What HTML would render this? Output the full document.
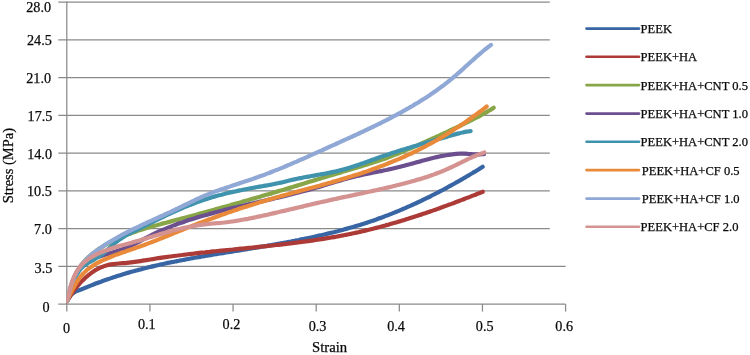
<!DOCTYPE html>
<html lang="en"><head><meta charset="utf-8"><title>Stress–strain curves</title>
<style>
html,body{margin:0;padding:0;background:#fff}
svg{display:block}
text{font-family:"Liberation Serif",serif;fill:#0a0a0a;stroke:#0a0a0a;stroke-width:0.25px}
</style></head><body>
<svg width="750" height="355" viewBox="0 0 750 355">
<rect width="750" height="355" fill="#fff"/>
<g stroke="#8a8a8a" stroke-width="1.25" fill="none">
<line x1="58.3" y1="304.10" x2="565.6" y2="304.10"/>
<line x1="58.3" y1="266.34" x2="565.6" y2="266.34"/>
<line x1="58.3" y1="228.58" x2="549.8" y2="228.58"/>
<line x1="58.3" y1="190.82" x2="549.8" y2="190.82"/>
<line x1="58.3" y1="153.06" x2="549.8" y2="153.06"/>
<line x1="58.3" y1="115.30" x2="549.8" y2="115.30"/>
<line x1="58.3" y1="77.54" x2="549.8" y2="77.54"/>
<line x1="58.3" y1="39.78" x2="549.8" y2="39.78"/>
<line x1="58.3" y1="2.02" x2="549.8" y2="2.02"/>
<line x1="66.8" y1="1.5" x2="66.8" y2="311.6"/>
<line x1="149.93" y1="304.1" x2="149.93" y2="311.6"/>
<line x1="233.06" y1="304.1" x2="233.06" y2="311.6"/>
<line x1="316.19" y1="304.1" x2="316.19" y2="311.6"/>
<line x1="399.32" y1="304.1" x2="399.32" y2="311.6"/>
<line x1="482.45" y1="304.1" x2="482.45" y2="311.6"/>
<line x1="565.58" y1="304.1" x2="565.58" y2="311.6"/>
</g>
<clipPath id="pa"><rect x="66.4" y="0" width="500" height="303.6"/></clipPath>
<g fill="none" stroke-width="4.2" stroke-linecap="round" stroke-linejoin="round" clip-path="url(#pa)">
<path stroke="#3865A3" d="M66.9 301.3C67.3 300.7 68.3 298.9 69.1 297.8C69.8 296.7 70.5 295.4 71.4 294.5C72.3 293.6 73.4 292.9 74.5 292.2C75.6 291.6 76.8 291.1 78.0 290.6C79.2 290.1 80.4 289.7 81.7 289.2C82.9 288.7 84.1 288.2 85.4 287.7C86.6 287.2 87.8 286.7 89.1 286.2C90.3 285.7 91.5 285.3 92.8 284.8C94.0 284.3 95.3 283.8 96.5 283.3C97.8 282.9 99.0 282.4 100.3 281.9C101.5 281.5 102.8 281.0 104.0 280.6C105.3 280.1 106.6 279.7 107.8 279.2C109.1 278.8 110.3 278.4 111.6 277.9C112.9 277.5 114.1 277.1 115.4 276.7C116.7 276.3 117.9 275.9 119.2 275.5C120.5 275.1 121.7 274.7 123.0 274.3C124.3 273.9 125.5 273.5 126.8 273.1C128.1 272.8 129.4 272.4 130.6 272.0C131.9 271.7 133.2 271.3 134.5 271.0C135.8 270.6 137.0 270.3 138.3 269.9C139.6 269.6 140.9 269.3 142.2 268.9C143.4 268.6 144.7 268.3 146.0 268.0C147.3 267.6 148.6 267.3 149.9 267.0C151.2 266.7 152.5 266.4 153.7 266.1C155.0 265.8 156.3 265.5 157.6 265.2C158.9 264.9 160.2 264.6 161.5 264.3C162.8 264.1 164.1 263.8 165.4 263.5C166.7 263.2 168.0 262.9 169.3 262.7C170.6 262.4 171.9 262.1 173.2 261.9C174.5 261.6 175.8 261.4 177.1 261.1C178.4 260.8 179.7 260.6 181.0 260.3C182.3 260.1 183.6 259.8 184.9 259.6C186.2 259.3 187.5 259.1 188.8 258.9C190.1 258.6 191.4 258.4 192.7 258.2C194.0 257.9 195.3 257.7 196.6 257.5C197.9 257.2 199.2 257.0 200.6 256.8C201.9 256.5 203.2 256.3 204.5 256.1C205.8 255.9 207.1 255.6 208.4 255.4C209.7 255.2 211.0 255.0 212.3 254.8C213.6 254.5 215.0 254.3 216.3 254.1C217.6 253.9 218.9 253.7 220.2 253.5C221.5 253.3 222.8 253.0 224.1 252.8C225.4 252.6 226.8 252.4 228.1 252.2C229.4 252.0 230.7 251.8 232.0 251.6C233.3 251.3 234.6 251.1 236.0 250.9C237.3 250.7 238.6 250.5 239.9 250.3C241.2 250.1 242.5 249.9 243.8 249.7C245.1 249.4 246.5 249.2 247.8 249.0C249.1 248.8 250.4 248.6 251.7 248.4C253.0 248.2 254.3 247.9 255.6 247.7C257.0 247.5 258.3 247.3 259.6 247.1C260.9 246.8 262.2 246.6 263.5 246.4C264.8 246.2 266.1 246.0 267.5 245.7C268.8 245.5 270.1 245.3 271.4 245.1C272.7 244.8 274.0 244.6 275.3 244.4C276.6 244.1 277.9 243.9 279.2 243.7C280.5 243.4 281.9 243.2 283.2 243.0C284.5 242.7 285.8 242.5 287.1 242.2C288.4 242.0 289.7 241.7 291.0 241.5C292.3 241.2 293.6 241.0 294.9 240.7C296.2 240.5 297.5 240.2 298.8 240.0C300.1 239.7 301.4 239.4 302.7 239.2C304.0 238.9 305.3 238.6 306.6 238.4C307.9 238.1 309.2 237.8 310.5 237.5C311.8 237.3 313.1 237.0 314.4 236.7C315.7 236.4 317.0 236.1 318.3 235.8C319.6 235.5 320.9 235.3 322.2 235.0C323.5 234.7 324.8 234.4 326.1 234.0C327.3 233.7 328.6 233.4 329.9 233.1C331.2 232.8 332.5 232.5 333.8 232.2C335.1 231.8 336.3 231.5 337.6 231.2C338.9 230.8 340.2 230.5 341.5 230.2C342.8 229.8 344.0 229.5 345.3 229.1C346.6 228.8 347.9 228.4 349.1 228.0C350.4 227.7 351.7 227.3 353.0 227.0C354.2 226.6 355.5 226.2 356.8 225.8C358.0 225.4 359.3 225.1 360.6 224.7C361.8 224.3 363.1 223.9 364.4 223.5C365.6 223.1 366.9 222.7 368.1 222.2C369.4 221.8 370.7 221.4 371.9 221.0C373.2 220.5 374.4 220.1 375.7 219.7C376.9 219.2 378.2 218.8 379.4 218.3C380.7 217.9 381.9 217.4 383.2 217.0C384.4 216.5 385.7 216.0 386.9 215.6C388.1 215.1 389.4 214.6 390.6 214.1C391.8 213.6 393.1 213.1 394.3 212.6C395.6 212.1 396.8 211.6 398.0 211.1C399.2 210.6 400.5 210.1 401.7 209.6C402.9 209.1 404.1 208.5 405.4 208.0C406.6 207.5 407.8 206.9 409.0 206.4C410.2 205.9 411.5 205.3 412.7 204.8C413.9 204.2 415.1 203.7 416.3 203.1C417.5 202.5 418.7 202.0 419.9 201.4C421.1 200.8 422.3 200.3 423.5 199.7C424.7 199.1 425.9 198.5 427.1 197.9C428.3 197.3 429.5 196.7 430.7 196.2C431.9 195.6 433.1 195.0 434.3 194.3C435.5 193.7 436.7 193.1 437.8 192.5C439.0 191.9 440.2 191.3 441.4 190.7C442.6 190.0 443.7 189.4 444.9 188.8C446.1 188.2 447.2 187.5 448.4 186.9C449.6 186.3 450.7 185.6 451.9 185.0C453.1 184.3 454.2 183.7 455.4 183.0C456.5 182.4 457.7 181.7 458.9 181.1C460.0 180.4 461.2 179.7 462.3 179.1C463.5 178.4 464.6 177.7 465.7 177.1C466.9 176.4 468.0 175.7 469.2 175.1C470.3 174.4 471.4 173.7 472.6 173.0C473.7 172.3 474.8 171.7 476.0 171.0C477.1 170.3 478.2 169.6 479.3 168.9C480.5 168.2 482.1 167.2 482.7 166.8"/>
<path stroke="#AC3B37" d="M66.9 301.3C67.2 300.7 68.2 299.1 68.9 298.0C69.6 296.9 70.3 295.8 71.1 294.7C71.8 293.6 72.6 292.5 73.3 291.4C74.1 290.4 74.9 289.3 75.7 288.3C76.6 287.2 77.4 286.2 78.3 285.2C79.1 284.2 80.0 283.2 80.9 282.2C81.8 281.2 82.8 280.3 83.7 279.4C84.7 278.4 85.7 277.5 86.7 276.7C87.7 275.8 88.7 274.9 89.8 274.1C90.8 273.3 91.9 272.5 93.0 271.8C94.1 271.1 95.2 270.3 96.3 269.7C97.5 269.0 98.6 268.4 99.8 267.9C101.0 267.3 102.2 266.8 103.4 266.4C104.7 265.9 105.9 265.5 107.2 265.2C108.4 264.9 109.7 264.6 111.0 264.4C112.3 264.2 113.6 264.0 114.9 263.9C116.2 263.7 117.5 263.6 118.8 263.5C120.2 263.4 121.5 263.3 122.8 263.2C124.1 263.1 125.5 263.0 126.8 262.8C128.1 262.7 129.4 262.6 130.7 262.4C132.0 262.2 133.4 262.1 134.7 261.9C136.0 261.7 137.3 261.5 138.6 261.3C139.9 261.1 141.2 260.9 142.5 260.7C143.8 260.5 145.1 260.3 146.5 260.1C147.8 259.9 149.1 259.7 150.4 259.5C151.7 259.3 153.0 259.1 154.3 258.9C155.6 258.6 156.9 258.4 158.2 258.2C159.5 258.0 160.8 257.8 162.1 257.6C163.4 257.5 164.7 257.3 166.0 257.1C167.4 256.9 168.7 256.7 170.0 256.5C171.3 256.3 172.6 256.2 173.9 256.0C175.2 255.8 176.5 255.6 177.8 255.5C179.1 255.3 180.4 255.1 181.7 255.0C183.1 254.8 184.4 254.7 185.7 254.5C187.0 254.3 188.3 254.2 189.6 254.0C190.9 253.9 192.2 253.7 193.5 253.6C194.8 253.4 196.2 253.3 197.5 253.1C198.8 253.0 200.1 252.8 201.4 252.7C202.7 252.6 204.0 252.4 205.3 252.3C206.7 252.1 208.0 252.0 209.3 251.9C210.6 251.7 211.9 251.6 213.2 251.4C214.5 251.3 215.8 251.2 217.2 251.0C218.5 250.9 219.8 250.8 221.1 250.6C222.4 250.5 223.7 250.4 225.0 250.3C226.4 250.1 227.7 250.0 229.0 249.9C230.3 249.7 231.6 249.6 232.9 249.5C234.2 249.3 235.6 249.2 236.9 249.1C238.2 249.0 239.5 248.8 240.8 248.7C242.1 248.6 243.5 248.4 244.8 248.3C246.1 248.2 247.4 248.0 248.7 247.9C250.0 247.8 251.3 247.7 252.7 247.5C254.0 247.4 255.3 247.3 256.6 247.1C257.9 247.0 259.2 246.9 260.6 246.7C261.9 246.6 263.2 246.4 264.5 246.3C265.8 246.2 267.1 246.0 268.4 245.9C269.8 245.7 271.1 245.6 272.4 245.5C273.7 245.3 275.0 245.2 276.3 245.0C277.6 244.9 279.0 244.7 280.3 244.6C281.6 244.4 282.9 244.3 284.2 244.1C285.5 244.0 286.8 243.8 288.1 243.7C289.5 243.5 290.8 243.3 292.1 243.2C293.4 243.0 294.7 242.9 296.0 242.7C297.3 242.5 298.6 242.4 299.9 242.2C301.2 242.0 302.6 241.8 303.9 241.7C305.2 241.5 306.5 241.3 307.8 241.1C309.1 240.9 310.4 240.8 311.7 240.6C313.0 240.4 314.3 240.2 315.6 240.0C316.9 239.8 318.2 239.6 319.5 239.4C320.8 239.2 322.1 239.0 323.5 238.8C324.8 238.6 326.1 238.4 327.4 238.1C328.7 237.9 330.0 237.7 331.3 237.5C332.6 237.3 333.9 237.0 335.2 236.8C336.5 236.6 337.8 236.3 339.1 236.1C340.3 235.9 341.6 235.6 342.9 235.4C344.2 235.1 345.5 234.9 346.8 234.6C348.1 234.3 349.4 234.1 350.7 233.8C352.0 233.6 353.3 233.3 354.6 233.0C355.9 232.7 357.2 232.5 358.4 232.2C359.7 231.9 361.0 231.6 362.3 231.3C363.6 231.0 364.9 230.7 366.2 230.4C367.4 230.1 368.7 229.8 370.0 229.5C371.3 229.2 372.6 228.8 373.9 228.5C375.1 228.2 376.4 227.9 377.7 227.5C379.0 227.2 380.3 226.8 381.5 226.5C382.8 226.2 384.1 225.8 385.4 225.5C386.6 225.1 387.9 224.8 389.2 224.4C390.5 224.0 391.7 223.7 393.0 223.3C394.3 222.9 395.5 222.6 396.8 222.2C398.1 221.8 399.3 221.4 400.6 221.1C401.9 220.7 403.1 220.3 404.4 219.9C405.7 219.5 406.9 219.1 408.2 218.7C409.5 218.3 410.7 217.9 412.0 217.5C413.2 217.1 414.5 216.7 415.8 216.3C417.0 215.9 418.3 215.5 419.5 215.1C420.8 214.7 422.0 214.2 423.3 213.8C424.6 213.4 425.8 213.0 427.1 212.5C428.3 212.1 429.6 211.7 430.8 211.2C432.1 210.8 433.3 210.4 434.6 209.9C435.8 209.5 437.1 209.1 438.3 208.6C439.5 208.2 440.8 207.7 442.0 207.3C443.3 206.8 444.5 206.4 445.8 205.9C447.0 205.5 448.2 205.0 449.5 204.6C450.7 204.1 452.0 203.6 453.2 203.2C454.4 202.7 455.7 202.3 456.9 201.8C458.2 201.3 459.4 200.9 460.6 200.4C461.9 199.9 463.1 199.5 464.3 199.0C465.5 198.5 466.8 198.0 468.0 197.6C469.2 197.1 470.5 196.6 471.7 196.1C472.9 195.7 474.1 195.2 475.4 194.7C476.6 194.2 477.8 193.7 479.0 193.3C480.3 192.8 482.1 192.1 482.7 191.8"/>
<path stroke="#88A647" d="M67.3 301.3C67.4 300.7 67.8 298.7 68.1 297.5C68.4 296.2 68.7 294.9 69.0 293.6C69.3 292.3 69.6 291.0 70.0 289.7C70.3 288.4 70.7 287.1 71.1 285.9C71.5 284.6 71.9 283.3 72.4 282.1C72.8 280.8 73.3 279.6 73.8 278.3C74.4 277.1 74.9 275.9 75.5 274.7C76.0 273.5 76.6 272.3 77.3 271.2C77.9 270.0 78.6 268.9 79.3 267.8C80.1 266.7 80.8 265.6 81.6 264.6C82.4 263.6 83.2 262.6 84.1 261.6C85.0 260.6 85.9 259.7 86.8 258.7C87.7 257.8 88.7 256.9 89.7 256.0C90.7 255.2 91.7 254.3 92.7 253.5C93.7 252.7 94.8 251.9 95.9 251.1C96.9 250.3 98.0 249.6 99.1 248.8C100.2 248.1 101.4 247.4 102.5 246.7C103.6 246.0 104.8 245.3 105.9 244.7C107.1 244.0 108.2 243.4 109.4 242.8C110.5 242.1 111.7 241.5 112.9 240.9C114.1 240.4 115.2 239.8 116.4 239.2C117.6 238.7 118.8 238.1 120.0 237.6C121.2 237.1 122.5 236.6 123.7 236.1C124.9 235.6 126.1 235.1 127.3 234.6C128.6 234.1 129.8 233.7 131.0 233.2C132.3 232.8 133.5 232.3 134.8 231.9C136.0 231.5 137.3 231.0 138.5 230.6C139.8 230.2 141.0 229.8 142.3 229.4C143.6 229.0 144.8 228.6 146.1 228.2C147.4 227.9 148.6 227.5 149.9 227.1C151.2 226.8 152.5 226.4 153.7 226.0C155.0 225.7 156.3 225.3 157.6 225.0C158.9 224.6 160.1 224.3 161.4 223.9C162.7 223.6 164.0 223.2 165.3 222.9C166.6 222.6 167.8 222.2 169.1 221.9C170.4 221.5 171.7 221.2 173.0 220.9C174.3 220.5 175.5 220.2 176.8 219.8C178.1 219.5 179.4 219.2 180.7 218.8C182.0 218.5 183.2 218.1 184.5 217.8C185.8 217.4 187.1 217.1 188.3 216.8C189.6 216.4 190.9 216.1 192.2 215.7C193.5 215.4 194.7 215.0 196.0 214.7C197.3 214.3 198.6 214.0 199.8 213.6C201.1 213.3 202.4 212.9 203.7 212.6C204.9 212.2 206.2 211.9 207.5 211.5C208.8 211.2 210.0 210.8 211.3 210.5C212.6 210.1 213.9 209.8 215.1 209.4C216.4 209.1 217.7 208.7 218.9 208.4C220.2 208.0 221.5 207.7 222.8 207.3C224.0 207.0 225.3 206.6 226.6 206.3C227.8 205.9 229.1 205.5 230.4 205.2C231.6 204.8 232.9 204.5 234.2 204.1C235.5 203.7 236.7 203.4 238.0 203.0C239.3 202.7 240.5 202.3 241.8 201.9C243.1 201.6 244.3 201.2 245.6 200.8C246.9 200.5 248.1 200.1 249.4 199.7C250.7 199.4 251.9 199.0 253.2 198.6C254.5 198.3 255.7 197.9 257.0 197.5C258.3 197.2 259.5 196.8 260.8 196.4C262.1 196.1 263.3 195.7 264.6 195.3C265.9 194.9 267.2 194.6 268.4 194.2C269.7 193.8 271.0 193.4 272.2 193.1C273.5 192.7 274.8 192.3 276.0 191.9C277.3 191.6 278.6 191.2 279.8 190.8C281.1 190.4 282.4 190.0 283.6 189.7C284.9 189.3 286.2 188.9 287.4 188.5C288.7 188.1 290.0 187.7 291.2 187.4C292.5 187.0 293.8 186.6 295.0 186.2C296.3 185.8 297.6 185.4 298.8 185.1C300.1 184.7 301.4 184.3 302.6 183.9C303.9 183.5 305.2 183.1 306.4 182.8C307.7 182.4 309.0 182.0 310.2 181.6C311.5 181.2 312.8 180.8 314.0 180.4C315.3 180.1 316.6 179.7 317.8 179.3C319.1 178.9 320.4 178.5 321.7 178.1C322.9 177.7 324.2 177.4 325.5 177.0C326.7 176.6 328.0 176.2 329.3 175.8C330.5 175.4 331.8 175.1 333.1 174.7C334.3 174.3 335.6 173.9 336.9 173.5C338.1 173.2 339.4 172.8 340.7 172.4C342.0 172.0 343.2 171.6 344.5 171.3C345.8 170.9 347.0 170.5 348.3 170.1C349.6 169.8 350.8 169.4 352.1 169.0C353.4 168.6 354.6 168.2 355.9 167.9C357.2 167.5 358.4 167.1 359.7 166.7C361.0 166.3 362.2 166.0 363.5 165.6C364.8 165.2 366.0 164.8 367.3 164.4C368.6 164.0 369.8 163.6 371.1 163.2C372.3 162.8 373.6 162.4 374.8 162.0C376.1 161.6 377.4 161.2 378.6 160.7C379.9 160.3 381.1 159.9 382.3 159.5C383.6 159.0 384.8 158.6 386.1 158.2C387.3 157.7 388.6 157.3 389.8 156.8C391.0 156.3 392.3 155.9 393.5 155.4C394.7 154.9 396.0 154.4 397.2 154.0C398.4 153.5 399.6 153.0 400.9 152.5C402.1 152.0 403.3 151.5 404.5 150.9C405.7 150.4 406.9 149.9 408.2 149.4C409.4 148.9 410.6 148.3 411.8 147.8C413.0 147.3 414.2 146.8 415.4 146.2C416.6 145.7 417.8 145.2 419.1 144.6C420.3 144.1 421.5 143.5 422.7 143.0C423.9 142.5 425.1 141.9 426.3 141.4C427.5 140.8 428.7 140.3 429.9 139.8C431.1 139.2 432.3 138.7 433.5 138.1C434.7 137.6 435.9 137.0 437.1 136.5C438.3 135.9 439.5 135.4 440.8 134.8C442.0 134.3 443.2 133.7 444.4 133.1C445.6 132.6 446.8 132.0 448.0 131.5C449.2 130.9 450.3 130.3 451.5 129.8C452.7 129.2 453.9 128.7 455.1 128.1C456.3 127.5 457.5 126.9 458.7 126.4C459.9 125.8 461.1 125.2 462.3 124.7C463.5 124.1 464.7 123.5 465.9 122.9C467.1 122.4 468.3 121.8 469.4 121.2C470.6 120.6 471.8 120.0 473.0 119.4C474.2 118.9 475.4 118.3 476.5 117.6C477.7 117.0 478.9 116.4 480.0 115.8C481.2 115.2 482.4 114.5 483.5 113.9C484.7 113.2 485.8 112.6 487.0 111.9C488.1 111.2 489.2 110.6 490.4 109.9C491.5 109.2 493.1 108.1 493.7 107.7"/>
<path stroke="#6B4F8F" d="M66.9 301.3C67.1 300.7 67.8 299.0 68.2 297.7C68.6 296.5 69.0 295.2 69.4 294.0C69.7 292.7 70.1 291.4 70.5 290.0C70.9 288.7 71.3 287.4 71.7 286.1C72.1 284.7 72.5 283.4 72.9 282.1C73.4 280.8 73.9 279.5 74.4 278.2C74.9 277.0 75.4 275.7 76.0 274.5C76.6 273.3 77.3 272.2 78.0 271.1C78.6 270.0 79.4 268.9 80.2 267.9C81.0 266.9 81.9 266.0 82.8 265.2C83.8 264.3 84.8 263.6 85.8 262.8C86.8 262.1 87.9 261.5 89.1 260.8C90.2 260.2 91.4 259.6 92.6 259.1C93.8 258.6 95.1 258.1 96.3 257.6C97.6 257.1 98.9 256.7 100.1 256.3C101.4 255.9 102.7 255.5 104.0 255.1C105.3 254.7 106.6 254.3 107.9 253.9C109.2 253.5 110.5 253.1 111.8 252.8C113.1 252.4 114.4 252.0 115.6 251.6C116.9 251.2 118.2 250.8 119.4 250.3C120.7 249.9 121.9 249.5 123.2 249.0C124.4 248.6 125.6 248.1 126.9 247.6C128.1 247.0 129.3 246.5 130.5 245.9C131.7 245.4 132.9 244.8 134.1 244.2C135.2 243.6 136.4 243.0 137.6 242.4C138.8 241.8 140.0 241.2 141.1 240.5C142.3 239.9 143.5 239.3 144.7 238.6C145.8 238.0 147.0 237.4 148.2 236.8C149.4 236.2 150.6 235.6 151.7 235.0C152.9 234.4 154.1 233.8 155.3 233.2C156.5 232.6 157.7 232.1 158.9 231.5C160.2 231.0 161.4 230.4 162.6 229.9C163.8 229.4 165.0 228.9 166.3 228.4C167.5 227.8 168.7 227.3 170.0 226.9C171.2 226.4 172.4 225.9 173.7 225.4C174.9 224.9 176.2 224.5 177.4 224.0C178.7 223.6 179.9 223.1 181.2 222.7C182.5 222.2 183.7 221.8 185.0 221.4C186.3 220.9 187.5 220.5 188.8 220.1C190.1 219.7 191.3 219.3 192.6 218.9C193.9 218.5 195.2 218.1 196.4 217.7C197.7 217.3 199.0 217.0 200.3 216.6C201.5 216.2 202.8 215.8 204.1 215.5C205.4 215.1 206.7 214.8 208.0 214.4C209.3 214.0 210.5 213.7 211.8 213.4C213.1 213.0 214.4 212.7 215.7 212.3C217.0 212.0 218.3 211.7 219.6 211.3C220.9 211.0 222.2 210.7 223.5 210.3C224.7 210.0 226.0 209.7 227.3 209.4C228.6 209.1 229.9 208.7 231.2 208.4C232.5 208.1 233.8 207.8 235.1 207.5C236.4 207.2 237.7 206.9 239.0 206.6C240.3 206.3 241.6 206.0 242.9 205.7C244.2 205.4 245.5 205.1 246.8 204.8C248.1 204.5 249.4 204.2 250.7 203.9C252.0 203.6 253.3 203.3 254.6 203.0C255.9 202.7 257.2 202.4 258.5 202.1C259.8 201.8 261.1 201.5 262.4 201.2C263.7 200.9 265.0 200.6 266.3 200.3C267.6 200.0 268.9 199.7 270.2 199.4C271.5 199.1 272.8 198.8 274.0 198.5C275.3 198.2 276.6 197.9 277.9 197.6C279.2 197.3 280.5 197.0 281.8 196.7C283.1 196.4 284.4 196.1 285.7 195.7C287.0 195.4 288.3 195.1 289.6 194.8C290.9 194.5 292.2 194.2 293.5 193.8C294.8 193.5 296.0 193.2 297.3 192.8C298.6 192.5 299.9 192.2 301.2 191.8C302.5 191.5 303.8 191.1 305.1 190.8C306.4 190.5 307.6 190.1 308.9 189.7C310.2 189.4 311.5 189.0 312.8 188.7C314.0 188.3 315.3 187.9 316.6 187.5C317.9 187.2 319.2 186.8 320.4 186.4C321.7 186.0 323.0 185.7 324.3 185.3C325.6 184.9 326.8 184.5 328.1 184.1C329.4 183.7 330.7 183.3 331.9 183.0C333.2 182.6 334.5 182.2 335.8 181.8C337.1 181.4 338.3 181.1 339.6 180.7C340.9 180.3 342.2 180.0 343.5 179.6C344.7 179.2 346.0 178.9 347.3 178.5C348.6 178.2 349.9 177.8 351.2 177.5C352.5 177.2 353.7 176.8 355.0 176.5C356.3 176.2 357.6 175.9 358.9 175.6C360.2 175.3 361.5 175.0 362.8 174.7C364.1 174.4 365.4 174.1 366.7 173.9C368.0 173.6 369.3 173.3 370.6 173.1C371.9 172.8 373.3 172.6 374.6 172.3C375.9 172.0 377.2 171.8 378.5 171.5C379.8 171.3 381.1 171.0 382.4 170.8C383.7 170.5 385.0 170.2 386.3 170.0C387.6 169.7 388.9 169.4 390.2 169.1C391.5 168.9 392.8 168.6 394.1 168.3C395.4 168.0 396.7 167.6 398.0 167.3C399.3 167.0 400.6 166.7 401.9 166.3C403.2 166.0 404.5 165.7 405.8 165.3C407.1 165.0 408.3 164.6 409.6 164.3C410.9 163.9 412.2 163.6 413.5 163.2C414.8 162.9 416.1 162.5 417.4 162.1C418.6 161.8 419.9 161.4 421.2 161.1C422.5 160.7 423.8 160.4 425.1 160.0C426.4 159.7 427.7 159.4 429.0 159.0C430.3 158.7 431.5 158.4 432.8 158.0C434.1 157.7 435.4 157.4 436.7 157.1C438.0 156.8 439.3 156.5 440.6 156.2C441.9 156.0 443.3 155.7 444.6 155.5C445.9 155.2 447.2 155.0 448.5 154.8C449.8 154.6 451.1 154.4 452.4 154.3C453.7 154.1 455.0 154.0 456.3 153.9C457.6 153.8 459.0 153.7 460.3 153.7C461.6 153.7 462.9 153.7 464.2 153.7C465.5 153.7 466.8 153.8 468.1 153.9C469.4 153.9 470.8 154.0 472.1 154.1C473.4 154.1 474.7 154.2 476.0 154.3C477.3 154.3 478.7 154.4 480.0 154.3C481.3 154.3 483.3 154.2 484.0 154.2"/>
<path stroke="#3F93AD" d="M66.9 301.3C67.1 300.7 67.9 298.9 68.3 297.7C68.8 296.4 69.3 295.2 69.7 293.9C70.1 292.7 70.6 291.4 71.0 290.2C71.4 288.9 71.9 287.6 72.3 286.3C72.8 285.1 73.2 283.8 73.7 282.5C74.1 281.3 74.6 280.0 75.1 278.7C75.6 277.5 76.2 276.3 76.7 275.1C77.3 273.9 78.0 272.7 78.7 271.6C79.4 270.6 80.1 269.5 81.0 268.6C81.8 267.6 82.8 266.8 83.8 265.9C84.8 265.1 85.9 264.4 87.0 263.7C88.1 263.0 89.3 262.3 90.5 261.7C91.6 261.0 92.8 260.3 93.9 259.7C95.1 259.0 96.2 258.3 97.3 257.6C98.4 256.9 99.5 256.2 100.6 255.4C101.7 254.7 102.7 253.8 103.7 253.0C104.8 252.2 105.8 251.3 106.7 250.4C107.7 249.6 108.7 248.7 109.7 247.8C110.7 246.9 111.6 246.0 112.6 245.1C113.6 244.3 114.6 243.4 115.6 242.5C116.6 241.7 117.7 240.9 118.7 240.1C119.8 239.3 120.9 238.6 122.0 237.9C123.1 237.1 124.2 236.5 125.4 235.8C126.5 235.1 127.7 234.5 128.9 233.9C130.0 233.3 131.2 232.7 132.4 232.0C133.6 231.4 134.8 230.9 136.0 230.3C137.2 229.7 138.4 229.1 139.6 228.5C140.8 227.9 142.0 227.3 143.2 226.7C144.4 226.1 145.5 225.5 146.7 224.9C147.9 224.3 149.1 223.7 150.3 223.1C151.5 222.5 152.7 221.9 153.9 221.3C155.1 220.8 156.3 220.2 157.5 219.6C158.7 219.0 159.9 218.4 161.1 217.9C162.3 217.3 163.5 216.7 164.7 216.1C165.9 215.6 167.1 215.0 168.3 214.4C169.5 213.9 170.7 213.3 171.9 212.8C173.1 212.2 174.3 211.7 175.5 211.1C176.7 210.6 177.9 210.0 179.1 209.5C180.3 209.0 181.5 208.5 182.8 207.9C184.0 207.4 185.2 206.9 186.4 206.4C187.7 205.9 188.9 205.4 190.1 204.9C191.3 204.4 192.6 204.0 193.8 203.5C195.0 203.0 196.3 202.6 197.5 202.1C198.8 201.6 200.0 201.2 201.3 200.8C202.5 200.3 203.8 199.9 205.0 199.5C206.3 199.1 207.5 198.7 208.8 198.3C210.1 197.9 211.3 197.5 212.6 197.1C213.9 196.7 215.2 196.4 216.4 196.0C217.7 195.6 219.0 195.3 220.3 195.0C221.6 194.6 222.9 194.3 224.1 194.0C225.4 193.6 226.7 193.3 228.0 193.0C229.3 192.7 230.6 192.4 231.9 192.1C233.2 191.8 234.5 191.5 235.8 191.3C237.1 191.0 238.4 190.7 239.7 190.4C241.0 190.2 242.3 189.9 243.7 189.6C245.0 189.4 246.3 189.1 247.6 188.9C248.9 188.6 250.2 188.4 251.5 188.1C252.8 187.9 254.1 187.6 255.4 187.4C256.7 187.2 258.0 186.9 259.3 186.7C260.6 186.5 261.9 186.2 263.2 186.0C264.5 185.8 265.8 185.5 267.1 185.3C268.4 185.1 269.7 184.8 271.0 184.6C272.3 184.3 273.6 184.1 274.9 183.8C276.2 183.6 277.5 183.3 278.8 183.0C280.1 182.7 281.4 182.5 282.7 182.2C284.0 181.9 285.2 181.5 286.5 181.2C287.8 180.9 289.1 180.6 290.4 180.3C291.7 180.0 293.0 179.7 294.3 179.4C295.6 179.1 296.9 178.8 298.2 178.5C299.5 178.3 300.8 178.0 302.1 177.8C303.4 177.5 304.7 177.2 306.0 177.0C307.3 176.8 308.6 176.5 309.9 176.3C311.2 176.0 312.5 175.8 313.8 175.6C315.1 175.3 316.4 175.1 317.7 174.9C319.1 174.7 320.4 174.4 321.7 174.2C323.0 174.0 324.3 173.7 325.6 173.5C326.9 173.2 328.2 173.0 329.5 172.7C330.8 172.5 332.1 172.2 333.4 171.9C334.7 171.6 336.0 171.4 337.2 171.1C338.5 170.8 339.8 170.5 341.1 170.1C342.4 169.8 343.7 169.5 344.9 169.1C346.2 168.8 347.5 168.4 348.7 168.0C350.0 167.6 351.3 167.2 352.5 166.8C353.8 166.4 355.1 166.0 356.3 165.6C357.6 165.2 358.8 164.7 360.1 164.3C361.3 163.8 362.6 163.4 363.8 163.0C365.1 162.5 366.3 162.1 367.6 161.6C368.8 161.2 370.1 160.7 371.3 160.2C372.6 159.8 373.8 159.3 375.1 158.9C376.4 158.5 377.6 158.0 378.9 157.6C380.1 157.1 381.4 156.7 382.6 156.3C383.9 155.8 385.2 155.4 386.4 155.0C387.7 154.6 388.9 154.2 390.2 153.7C391.5 153.3 392.7 152.9 394.0 152.5C395.3 152.1 396.5 151.7 397.8 151.3C399.0 150.9 400.3 150.5 401.6 150.1C402.9 149.7 404.1 149.3 405.4 148.9C406.7 148.5 407.9 148.1 409.2 147.8C410.5 147.4 411.7 147.0 413.0 146.6C414.3 146.2 415.6 145.8 416.8 145.5C418.1 145.1 419.4 144.7 420.6 144.3C421.9 144.0 423.2 143.6 424.5 143.2C425.7 142.8 427.0 142.5 428.3 142.1C429.6 141.7 430.8 141.4 432.1 141.0C433.4 140.6 434.6 140.2 435.9 139.9C437.2 139.5 438.5 139.1 439.7 138.8C441.0 138.4 442.3 138.0 443.6 137.7C444.8 137.3 446.1 136.9 447.4 136.6C448.7 136.2 449.9 135.8 451.2 135.5C452.5 135.1 453.7 134.7 455.0 134.4C456.3 134.0 457.6 133.7 458.9 133.4C460.1 133.0 461.4 132.7 462.7 132.5C464.0 132.2 465.3 131.9 466.6 131.7C468.0 131.5 469.9 131.2 470.6 131.1"/>
<path stroke="#E98A3B" d="M66.9 301.3C67.2 300.7 68.0 298.9 68.5 297.7C69.1 296.6 69.6 295.3 70.2 294.1C70.8 292.9 71.4 291.7 72.0 290.5C72.6 289.4 73.2 288.2 73.9 287.0C74.5 285.8 75.2 284.6 75.9 283.5C76.6 282.4 77.3 281.2 78.1 280.1C78.8 279.0 79.6 278.0 80.4 276.9C81.2 275.9 82.1 274.9 82.9 273.9C83.8 273.0 84.7 272.1 85.7 271.2C86.6 270.3 87.6 269.5 88.6 268.7C89.7 267.9 90.7 267.1 91.8 266.4C92.9 265.7 94.0 265.0 95.1 264.3C96.2 263.6 97.4 263.0 98.5 262.4C99.7 261.8 100.9 261.2 102.1 260.6C103.2 260.1 104.4 259.5 105.7 259.0C106.9 258.5 108.1 258.0 109.3 257.5C110.5 256.9 111.8 256.5 113.0 256.0C114.2 255.5 115.5 255.0 116.7 254.6C117.9 254.1 119.2 253.7 120.4 253.2C121.7 252.8 122.9 252.3 124.2 251.9C125.4 251.5 126.7 251.0 127.9 250.6C129.2 250.2 130.4 249.7 131.7 249.3C132.9 248.9 134.2 248.5 135.5 248.0C136.7 247.6 138.0 247.1 139.2 246.7C140.4 246.3 141.7 245.8 142.9 245.4C144.2 244.9 145.4 244.5 146.7 244.0C147.9 243.5 149.1 243.1 150.4 242.6C151.6 242.1 152.8 241.6 154.1 241.2C155.3 240.7 156.5 240.2 157.8 239.7C159.0 239.2 160.2 238.8 161.5 238.3C162.7 237.8 163.9 237.3 165.1 236.8C166.4 236.3 167.6 235.8 168.8 235.3C170.0 234.8 171.3 234.3 172.5 233.8C173.7 233.3 174.9 232.8 176.2 232.3C177.4 231.8 178.6 231.4 179.8 230.9C181.1 230.4 182.3 229.9 183.5 229.4C184.7 228.9 186.0 228.4 187.2 227.9C188.4 227.4 189.6 226.9 190.9 226.4C192.1 225.9 193.3 225.5 194.6 225.0C195.8 224.5 197.0 224.0 198.3 223.5C199.5 223.1 200.7 222.6 202.0 222.1C203.2 221.7 204.4 221.2 205.7 220.7C206.9 220.3 208.1 219.8 209.4 219.3C210.6 218.9 211.9 218.4 213.1 218.0C214.4 217.5 215.6 217.1 216.8 216.6C218.1 216.2 219.3 215.7 220.6 215.3C221.8 214.8 223.1 214.4 224.3 214.0C225.6 213.5 226.8 213.1 228.1 212.6C229.3 212.2 230.6 211.8 231.8 211.4C233.1 210.9 234.3 210.5 235.6 210.1C236.8 209.7 238.1 209.2 239.3 208.8C240.6 208.4 241.9 208.0 243.1 207.6C244.4 207.2 245.6 206.8 246.9 206.4C248.2 206.0 249.4 205.6 250.7 205.2C251.9 204.8 253.2 204.4 254.5 204.0C255.7 203.6 257.0 203.2 258.3 202.8C259.5 202.4 260.8 202.0 262.1 201.6C263.3 201.3 264.6 200.9 265.9 200.5C267.1 200.1 268.4 199.7 269.7 199.4C270.9 199.0 272.2 198.6 273.5 198.3C274.8 197.9 276.0 197.5 277.3 197.2C278.6 196.8 279.8 196.5 281.1 196.1C282.4 195.7 283.7 195.4 284.9 195.0C286.2 194.7 287.5 194.3 288.8 194.0C290.0 193.6 291.3 193.3 292.6 192.9C293.9 192.6 295.2 192.2 296.4 191.9C297.7 191.5 299.0 191.2 300.3 190.9C301.5 190.5 302.8 190.2 304.1 189.8C305.4 189.5 306.6 189.1 307.9 188.8C309.2 188.4 310.5 188.1 311.8 187.8C313.0 187.4 314.3 187.1 315.6 186.7C316.9 186.4 318.1 186.0 319.4 185.7C320.7 185.3 322.0 185.0 323.2 184.6C324.5 184.3 325.8 183.9 327.1 183.5C328.3 183.2 329.6 182.8 330.9 182.5C332.2 182.1 333.4 181.7 334.7 181.4C336.0 181.0 337.2 180.6 338.5 180.3C339.8 179.9 341.1 179.5 342.3 179.1C343.6 178.8 344.9 178.4 346.1 178.0C347.4 177.6 348.7 177.2 349.9 176.8C351.2 176.4 352.4 176.0 353.7 175.6C355.0 175.2 356.2 174.8 357.5 174.4C358.7 174.0 360.0 173.6 361.3 173.2C362.5 172.8 363.8 172.3 365.0 171.9C366.3 171.5 367.5 171.1 368.8 170.6C370.0 170.2 371.3 169.7 372.5 169.3C373.8 168.9 375.0 168.4 376.2 168.0C377.5 167.5 378.7 167.0 380.0 166.6C381.2 166.1 382.4 165.6 383.7 165.2C384.9 164.7 386.1 164.2 387.4 163.7C388.6 163.2 389.8 162.7 391.0 162.3C392.3 161.8 393.5 161.3 394.7 160.7C395.9 160.2 397.1 159.7 398.4 159.2C399.6 158.7 400.8 158.2 402.0 157.6C403.2 157.1 404.4 156.6 405.6 156.0C406.8 155.5 408.0 154.9 409.2 154.4C410.4 153.8 411.6 153.2 412.8 152.7C414.0 152.1 415.2 151.5 416.4 151.0C417.6 150.4 418.7 149.8 419.9 149.2C421.1 148.6 422.3 148.0 423.5 147.4C424.6 146.8 425.8 146.2 427.0 145.5C428.1 144.9 429.3 144.3 430.5 143.7C431.6 143.0 432.8 142.4 433.9 141.7C435.1 141.1 436.2 140.4 437.4 139.8C438.5 139.1 439.7 138.5 440.8 137.8C442.0 137.1 443.1 136.4 444.2 135.8C445.4 135.1 446.5 134.4 447.6 133.7C448.7 133.0 449.9 132.3 451.0 131.6C452.1 130.9 453.2 130.2 454.3 129.5C455.5 128.8 456.6 128.0 457.7 127.3C458.8 126.6 459.9 125.8 461.0 125.1C462.1 124.4 463.2 123.6 464.3 122.9C465.4 122.1 466.5 121.4 467.5 120.6C468.6 119.9 469.7 119.1 470.8 118.3C471.9 117.6 472.9 116.8 474.0 116.0C475.1 115.3 476.2 114.5 477.2 113.7C478.3 112.9 479.3 112.1 480.4 111.3C481.5 110.5 482.5 109.7 483.6 108.9C484.6 108.1 486.2 106.9 486.7 106.5"/>
<path stroke="#90A8D5" d="M67.2 301.3C67.3 300.7 67.7 298.7 67.9 297.4C68.2 296.1 68.5 294.8 68.8 293.5C69.1 292.2 69.4 290.9 69.8 289.6C70.2 288.3 70.5 287.0 70.9 285.8C71.4 284.5 71.8 283.2 72.3 282.0C72.7 280.7 73.2 279.5 73.7 278.3C74.3 277.1 74.8 275.9 75.4 274.7C76.0 273.5 76.6 272.4 77.3 271.2C77.9 270.1 78.6 269.0 79.3 267.9C80.1 266.8 80.8 265.8 81.6 264.8C82.4 263.7 83.3 262.7 84.1 261.8C85.0 260.8 85.9 259.9 86.8 258.9C87.8 258.0 88.7 257.1 89.7 256.2C90.7 255.4 91.7 254.5 92.7 253.7C93.7 252.8 94.7 252.0 95.8 251.2C96.9 250.4 97.9 249.6 99.0 248.9C100.1 248.1 101.2 247.4 102.3 246.6C103.4 245.9 104.5 245.1 105.6 244.4C106.8 243.7 107.9 243.0 109.0 242.3C110.2 241.6 111.3 240.9 112.4 240.3C113.6 239.6 114.7 238.9 115.9 238.3C117.0 237.6 118.2 237.0 119.4 236.3C120.5 235.7 121.7 235.0 122.9 234.4C124.0 233.8 125.2 233.2 126.4 232.6C127.6 232.0 128.7 231.4 129.9 230.8C131.1 230.2 132.3 229.6 133.5 229.0C134.7 228.4 135.9 227.9 137.1 227.3C138.3 226.7 139.5 226.1 140.7 225.6C141.8 225.0 143.0 224.5 144.2 223.9C145.4 223.3 146.6 222.8 147.8 222.2C149.0 221.7 150.3 221.1 151.5 220.6C152.7 220.0 153.9 219.5 155.1 219.0C156.3 218.4 157.5 217.9 158.7 217.3C159.9 216.8 161.1 216.2 162.3 215.7C163.5 215.1 164.7 214.6 165.9 214.0C167.1 213.5 168.3 212.9 169.5 212.4C170.7 211.8 171.9 211.3 173.1 210.7C174.3 210.1 175.5 209.6 176.7 209.0C177.9 208.4 179.0 207.8 180.2 207.3C181.4 206.7 182.6 206.1 183.8 205.5C185.0 204.9 186.2 204.3 187.4 203.8C188.6 203.2 189.8 202.6 190.9 202.0C192.1 201.5 193.3 200.9 194.5 200.3C195.7 199.7 196.9 199.2 198.1 198.6C199.3 198.1 200.5 197.5 201.7 197.0C202.9 196.5 204.2 195.9 205.4 195.4C206.6 194.9 207.8 194.4 209.0 193.9C210.3 193.4 211.5 192.9 212.7 192.5C214.0 192.0 215.2 191.5 216.4 191.1C217.7 190.6 218.9 190.2 220.2 189.8C221.4 189.3 222.7 188.9 223.9 188.5C225.2 188.0 226.4 187.6 227.7 187.2C229.0 186.8 230.2 186.4 231.5 185.9C232.7 185.5 234.0 185.1 235.2 184.7C236.5 184.3 237.8 183.9 239.0 183.5C240.3 183.1 241.5 182.6 242.8 182.2C244.1 181.8 245.3 181.4 246.6 181.0C247.8 180.6 249.1 180.1 250.4 179.7C251.6 179.3 252.9 178.9 254.1 178.4C255.4 178.0 256.6 177.5 257.9 177.1C259.1 176.7 260.3 176.2 261.6 175.8C262.8 175.3 264.1 174.8 265.3 174.4C266.5 173.9 267.8 173.4 269.0 173.0C270.3 172.5 271.5 172.0 272.7 171.5C273.9 171.0 275.2 170.5 276.4 170.1C277.6 169.6 278.9 169.1 280.1 168.6C281.3 168.1 282.5 167.6 283.7 167.1C285.0 166.5 286.2 166.0 287.4 165.5C288.6 165.0 289.8 164.5 291.1 164.0C292.3 163.5 293.5 162.9 294.7 162.4C295.9 161.9 297.1 161.4 298.3 160.8C299.6 160.3 300.8 159.8 302.0 159.2C303.2 158.7 304.4 158.2 305.6 157.6C306.8 157.1 308.0 156.5 309.2 156.0C310.4 155.5 311.7 154.9 312.9 154.4C314.1 153.8 315.3 153.3 316.5 152.8C317.7 152.2 318.9 151.7 320.1 151.1C321.3 150.6 322.5 150.0 323.7 149.5C324.9 148.9 326.1 148.4 327.3 147.8C328.5 147.3 329.8 146.8 331.0 146.2C332.2 145.7 333.4 145.1 334.6 144.6C335.8 144.0 337.0 143.5 338.2 142.9C339.4 142.4 340.6 141.8 341.8 141.3C343.0 140.7 344.2 140.2 345.4 139.6C346.7 139.1 347.9 138.5 349.1 138.0C350.3 137.4 351.5 136.9 352.7 136.3C353.9 135.8 355.1 135.2 356.3 134.7C357.5 134.1 358.7 133.6 359.9 133.0C361.1 132.4 362.3 131.9 363.5 131.3C364.7 130.7 365.9 130.2 367.1 129.6C368.3 129.0 369.5 128.5 370.7 127.9C371.8 127.3 373.0 126.7 374.2 126.2C375.4 125.6 376.6 125.0 377.8 124.4C379.0 123.8 380.2 123.2 381.4 122.7C382.5 122.1 383.7 121.5 384.9 120.9C386.1 120.3 387.3 119.7 388.4 119.1C389.6 118.5 390.8 117.9 391.9 117.2C393.1 116.6 394.3 116.0 395.5 115.4C396.6 114.8 397.8 114.1 399.0 113.5C400.1 112.9 401.3 112.2 402.4 111.6C403.6 111.0 404.7 110.3 405.9 109.7C407.0 109.0 408.2 108.4 409.3 107.7C410.5 107.0 411.6 106.4 412.8 105.7C413.9 105.0 415.0 104.3 416.2 103.7C417.3 103.0 418.4 102.3 419.6 101.6C420.7 100.9 421.8 100.2 422.9 99.5C424.0 98.8 425.1 98.1 426.2 97.4C427.4 96.6 428.5 95.9 429.6 95.2C430.7 94.4 431.7 93.7 432.8 93.0C433.9 92.2 435.0 91.5 436.1 90.7C437.2 89.9 438.2 89.2 439.3 88.4C440.4 87.6 441.4 86.8 442.5 86.0C443.6 85.2 444.6 84.4 445.7 83.6C446.7 82.8 447.8 82.0 448.8 81.2C449.8 80.4 450.9 79.5 451.9 78.7C452.9 77.8 453.9 77.0 454.9 76.1C455.9 75.3 456.9 74.4 457.9 73.5C458.9 72.7 459.9 71.8 460.9 70.9C461.9 70.0 462.9 69.1 463.9 68.2C464.9 67.3 465.8 66.4 466.8 65.5C467.8 64.6 468.8 63.7 469.8 62.8C470.8 62.0 471.7 61.1 472.7 60.2C473.7 59.3 474.7 58.4 475.7 57.5C476.7 56.6 477.7 55.7 478.7 54.9C479.7 54.0 480.7 53.1 481.7 52.3C482.7 51.4 483.7 50.6 484.7 49.7C485.8 48.9 486.8 48.1 487.8 47.3C488.9 46.5 490.5 45.3 491.0 44.9"/>
<path stroke="#D49291" d="M66.9 301.3C67.1 300.7 67.5 298.8 67.9 297.6C68.2 296.3 68.5 295.0 68.8 293.7C69.1 292.4 69.4 291.1 69.8 289.8C70.1 288.5 70.4 287.2 70.8 285.9C71.2 284.6 71.6 283.3 72.0 282.0C72.4 280.8 72.9 279.5 73.4 278.3C73.9 277.0 74.4 275.8 75.0 274.6C75.6 273.5 76.2 272.3 76.9 271.2C77.6 270.1 78.3 269.0 79.1 268.0C79.9 267.0 80.7 266.0 81.6 265.0C82.5 264.1 83.4 263.2 84.4 262.3C85.4 261.5 86.4 260.7 87.5 259.9C88.5 259.1 89.6 258.3 90.7 257.6C91.9 256.9 93.0 256.3 94.2 255.6C95.3 255.0 96.5 254.4 97.7 253.8C98.9 253.2 100.1 252.7 101.3 252.2C102.6 251.7 103.8 251.2 105.0 250.7C106.3 250.2 107.5 249.8 108.7 249.4C110.0 248.9 111.2 248.5 112.5 248.1C113.8 247.7 115.0 247.3 116.3 246.9C117.6 246.6 118.9 246.2 120.1 245.8C121.4 245.5 122.7 245.1 124.0 244.8C125.2 244.4 126.5 244.1 127.8 243.7C129.1 243.4 130.4 243.0 131.7 242.7C132.9 242.3 134.2 242.0 135.5 241.6C136.8 241.2 138.0 240.9 139.3 240.5C140.6 240.1 141.8 239.7 143.1 239.3C144.4 239.0 145.7 238.6 146.9 238.2C148.2 237.8 149.4 237.4 150.7 237.0C152.0 236.6 153.2 236.2 154.5 235.8C155.8 235.5 157.0 235.1 158.3 234.7C159.6 234.3 160.8 233.9 162.1 233.6C163.4 233.2 164.6 232.8 165.9 232.5C167.2 232.1 168.4 231.7 169.7 231.4C171.0 231.0 172.3 230.7 173.5 230.4C174.8 230.0 176.1 229.7 177.4 229.4C178.7 229.1 179.9 228.8 181.2 228.5C182.5 228.2 183.8 227.9 185.1 227.6C186.4 227.3 187.7 227.1 189.0 226.8C190.3 226.6 191.6 226.3 192.9 226.1C194.2 225.9 195.5 225.6 196.8 225.4C198.1 225.2 199.4 225.0 200.7 224.8C202.0 224.7 203.3 224.5 204.6 224.3C205.9 224.2 207.3 224.0 208.6 223.9C209.9 223.8 211.2 223.7 212.5 223.5C213.8 223.4 215.2 223.3 216.5 223.2C217.8 223.1 219.1 223.0 220.5 222.9C221.8 222.7 223.1 222.6 224.4 222.5C225.7 222.3 227.0 222.2 228.4 222.0C229.7 221.9 231.0 221.7 232.3 221.5C233.6 221.3 234.9 221.1 236.2 220.9C237.5 220.7 238.8 220.5 240.1 220.2C241.4 220.0 242.7 219.8 244.1 219.5C245.4 219.3 246.7 219.0 248.0 218.8C249.3 218.5 250.6 218.3 251.9 218.0C253.2 217.7 254.4 217.5 255.7 217.2C257.0 216.9 258.3 216.6 259.6 216.4C260.9 216.1 262.2 215.8 263.5 215.5C264.8 215.2 266.1 215.0 267.4 214.7C268.7 214.4 270.0 214.1 271.3 213.8C272.6 213.5 273.9 213.2 275.1 212.9C276.4 212.6 277.7 212.3 279.0 212.0C280.3 211.7 281.6 211.4 282.9 211.1C284.2 210.8 285.5 210.5 286.7 210.2C288.0 209.9 289.3 209.6 290.6 209.3C291.9 209.0 293.2 208.7 294.5 208.4C295.8 208.1 297.1 207.8 298.3 207.5C299.6 207.2 300.9 206.9 302.2 206.6C303.5 206.3 304.8 206.0 306.1 205.6C307.4 205.3 308.6 205.0 309.9 204.7C311.2 204.4 312.5 204.1 313.8 203.8C315.1 203.5 316.4 203.2 317.7 202.9C319.0 202.6 320.2 202.3 321.5 202.0C322.8 201.7 324.1 201.5 325.4 201.2C326.7 200.9 328.0 200.6 329.3 200.3C330.6 200.0 331.9 199.7 333.2 199.4C334.5 199.1 335.7 198.9 337.0 198.6C338.3 198.3 339.6 198.0 340.9 197.7C342.2 197.5 343.5 197.2 344.8 196.9C346.1 196.6 347.4 196.4 348.7 196.1C350.0 195.8 351.3 195.5 352.6 195.3C353.9 195.0 355.2 194.7 356.5 194.4C357.8 194.2 359.0 193.9 360.3 193.6C361.6 193.3 362.9 193.0 364.2 192.8C365.5 192.5 366.8 192.2 368.1 191.9C369.4 191.6 370.7 191.4 372.0 191.1C373.3 190.8 374.6 190.5 375.9 190.2C377.2 189.9 378.5 189.7 379.7 189.4C381.0 189.1 382.3 188.8 383.6 188.5C384.9 188.2 386.2 187.9 387.5 187.6C388.8 187.3 390.1 187.0 391.4 186.7C392.6 186.4 393.9 186.1 395.2 185.8C396.5 185.4 397.8 185.1 399.1 184.8C400.4 184.5 401.6 184.2 402.9 183.8C404.2 183.5 405.5 183.2 406.8 182.8C408.1 182.5 409.3 182.1 410.6 181.8C411.9 181.4 413.2 181.1 414.4 180.7C415.7 180.4 417.0 180.0 418.2 179.6C419.5 179.2 420.8 178.9 422.0 178.5C423.3 178.1 424.6 177.7 425.8 177.3C427.1 176.9 428.3 176.4 429.6 176.0C430.8 175.6 432.1 175.1 433.3 174.7C434.6 174.2 435.8 173.8 437.0 173.3C438.3 172.8 439.5 172.4 440.7 171.9C442.0 171.4 443.2 170.9 444.4 170.4C445.6 169.8 446.8 169.3 448.0 168.8C449.2 168.2 450.4 167.7 451.6 167.1C452.8 166.5 454.0 165.9 455.2 165.4C456.4 164.8 457.6 164.2 458.8 163.6C460.0 163.0 461.2 162.4 462.4 161.8C463.6 161.3 464.8 160.7 465.9 160.1C467.1 159.5 468.3 158.9 469.5 158.4C470.7 157.8 472.0 157.3 473.2 156.7C474.4 156.2 475.6 155.7 476.8 155.2C478.1 154.7 479.3 154.2 480.5 153.8C481.8 153.3 483.7 152.7 484.3 152.5"/>
</g>
<g font-size="14.2" text-anchor="end">
<text x="51.1" y="12.2">28.0</text>
<text x="51.8" y="44.7">24.5</text>
<text x="51.1" y="82.7">21.0</text>
<text x="52.4" y="120.9">17.5</text>
<text x="52.0" y="158.9">14.0</text>
<text x="51.8" y="196.3">10.5</text>
<text x="51.8" y="234.0">7.0</text>
<text x="52.3" y="272.8">3.5</text>
<text x="49.5" y="311.5">0</text>
</g>
<g font-size="14.2" text-anchor="middle">
<text x="66.6" y="332.8">0</text>
<text x="146.8" y="328.8">0.1</text>
<text x="231.4" y="328.8">0.2</text>
<text x="317.5" y="330.5">0.3</text>
<text x="396.1" y="330.8">0.4</text>
<text x="484.7" y="330.8">0.5</text>
<text x="564.2" y="330.8">0.6</text>
</g>
<text font-size="14.7" x="312" y="352.4">Strain</text>
<text font-size="14.5" text-anchor="middle" transform="translate(12.6 165.6) rotate(-90)">Stress (MPa)</text>
<g stroke-width="2.6" stroke-linecap="round">
<line x1="586.5" y1="28.6" x2="639" y2="28.6" stroke="#3865A3"/>
<line x1="586.5" y1="56.7" x2="639" y2="56.7" stroke="#AC3B37"/>
<line x1="586.5" y1="85.1" x2="639" y2="85.1" stroke="#88A647"/>
<line x1="586.5" y1="113.6" x2="639" y2="113.6" stroke="#6B4F8F"/>
<line x1="586.5" y1="141.7" x2="639" y2="141.7" stroke="#3F93AD"/>
<line x1="586.5" y1="170.1" x2="639" y2="170.1" stroke="#E98A3B"/>
<line x1="586.5" y1="198.6" x2="639" y2="198.6" stroke="#90A8D5"/>
<line x1="586.5" y1="226.7" x2="639" y2="226.7" stroke="#D49291"/>
</g>
<g font-size="12.55" stroke-width="0.12">
<text x="640.6" y="33.3">PEEK</text>
<text x="640.6" y="61.4">PEEK+HA</text>
<text x="640.6" y="89.8">PEEK+HA+CNT 0.5</text>
<text x="640.6" y="118.3">PEEK+HA+CNT 1.0</text>
<text x="640.6" y="146.4">PEEK+HA+CNT 2.0</text>
<text x="641.8" y="174.8">PEEK+HA+CF 0.5</text>
<text x="641.8" y="203.3">PEEK+HA+CF 1.0</text>
<text x="640.6" y="231.4">PEEK+HA+CF 2.0</text>
</g>
</svg></body></html>
